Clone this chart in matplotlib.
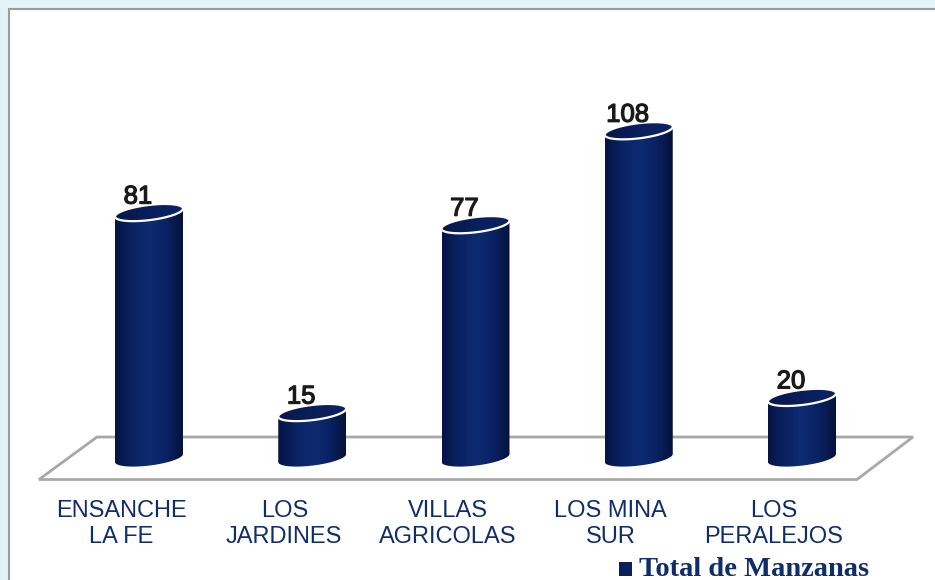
import numpy as np
import matplotlib
matplotlib.use("Agg")
import matplotlib.pyplot as plt
import matplotlib.patheffects as pe
from matplotlib.path import Path
from matplotlib.patches import PathPatch, Polygon, Rectangle
from matplotlib.colors import LinearSegmentedColormap

# ---- data ----
categories = ["ENSANCHE\nLA FE", "LOS\nJARDINES", "VILLAS\nAGRICOLAS", "LOS MINA\nSUR", "LOS\nPERALEJOS"]
values = [81, 15, 77, 108, 20]
series_name = "Total de Manzanas"

NAVY = "#0f2d6b"
W, H = 935, 580
fig = plt.figure(figsize=(W / 100, H / 100), dpi=100)

# page background + frame
fig.patches.append(Rectangle((0, 0), 1, 1, transform=fig.transFigure,
                             facecolor="#e2f4f8", edgecolor="none", zorder=-10))
fig.patches.append(Rectangle((8.5 / W, -0.1), 1.2, 1.1 - 9.5 / H, transform=fig.transFigure,
                             facecolor="white", edgecolor="#9c9c9c", lw=1.5, zorder=-9))

ax = fig.add_axes([0, 0, 1, 1])
ax.set_axis_off()
ax.patch.set_visible(False)

# scale: category index -> pixel x, value -> pixel y
X0, DX = 149, 163.25
Y0, PPU = 458, 3.03


def gx(px):
    return (px - X0) / DX


def gy(py):
    return (Y0 - py) / PPU


# floor
floor = Polygon([(gx(39), gy(479.5)), (gx(97), gy(437)), (gx(913), gy(437)), (gx(857), gy(479.5))],
                closed=True, facecolor="white", edgecolor="#a8a8a8", lw=2, zorder=2)
ax.add_patch(floor)

a = 34 / DX      # half width of cylinder
b = 7.6 / PPU    # half height of ellipse
s = 4 / PPU      # tilt of ellipse

cmap = LinearSegmentedColormap.from_list(
    "cyl", ["#061443", "#0a2262", "#0e2b72", "#0a2264", "#051239"])
top_cmap = LinearSegmentedColormap.from_list("top", ["#08184c", "#0a1e5a", "#0c2464"])
grad = np.linspace(0, 1, 256).reshape(1, -1)

for i, v in enumerate(values):
    t_low = np.linspace(np.pi, 2 * np.pi, 80)
    bx = i + a * np.cos(t_low)
    by = b * np.sin(t_low) + s * np.cos(t_low)
    t_up = np.linspace(0, np.pi, 80)
    tx = i + a * np.cos(t_up)
    ty = v + b * np.sin(t_up) + s * np.cos(t_up)
    verts = np.vstack([np.column_stack([bx, by]), np.column_stack([tx, ty]), [[bx[0], by[0]]]])
    codes = [Path.MOVETO] + [Path.LINETO] * (len(verts) - 2) + [Path.CLOSEPOLY]
    body = PathPatch(Path(verts, codes), facecolor="none", edgecolor="none", zorder=3)
    ax.add_patch(body)
    im = ax.imshow(grad, extent=(i - a, i + a, -b - s - 1, v + b + s + 1), cmap=cmap,
                   aspect="auto", interpolation="bicubic", zorder=3)
    im.set_clip_path(body)

    t = np.linspace(0, 2 * np.pi, 160)
    ex = i + a * np.cos(t)
    ey = v + b * np.sin(t) + s * np.cos(t)
    top_fill = Polygon(np.column_stack([ex, ey]), closed=True, facecolor="none",
                       edgecolor="none", zorder=4)
    ax.add_patch(top_fill)
    im2 = ax.imshow(grad, extent=(i - a, i + a, v - b - s - 1, v + b + s + 1), cmap=top_cmap,
                    aspect="auto", interpolation="bicubic", zorder=4)
    im2.set_clip_path(top_fill)
    top = Polygon(np.column_stack([ex, ey]), closed=True, facecolor="none",
                  edgecolor="white", lw=1.6, zorder=4.5)
    ax.add_patch(top)

    ax.text(i - 11 / DX, v + 9 / PPU, str(v), ha="center", va="baseline",
            fontsize=18.5, family="Liberation Sans", color="#1a1a1a", zorder=5,
            path_effects=[pe.withStroke(linewidth=0.9, foreground="#1a1a1a")])
    ax.text(i - 28 / DX, gy(500), categories[i], ha="center", va="top", fontsize=17,
            linespacing=1.26, family="Liberation Sans", color=NAVY, zorder=5)

# legend
ax.add_patch(Rectangle((gx(619), gy(576)), 13 / DX, 14 / PPU, facecolor="#0a1f5c",
                       edgecolor="none", zorder=5))
ax.text(gx(639), gy(576), series_name, ha="left", va="baseline", fontsize=20.5,
        family="Liberation Serif", weight="bold", color=NAVY, zorder=5)

ax.set_xlim(gx(0), gx(W))
ax.set_ylim(gy(H), gy(0))

fig.savefig("out.png", dpi=100)
